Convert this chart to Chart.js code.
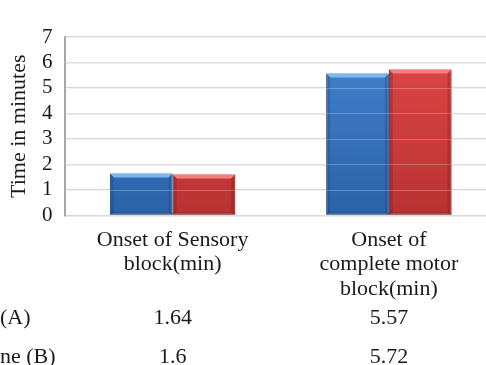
<!DOCTYPE html>
<html>
<head>
<meta charset="utf-8">
<script src="https://cdn.jsdelivr.net/npm/chart.js@4"></script>
<style>
  html, body { margin: 0; padding: 0; background: #fff; overflow: hidden; }
  #wrap { position: absolute; left: 0; top: 0; width: 497px; height: 365px; }
</style>
</head>
<body>
<div id="wrap"><canvas id="c"></canvas></div>
<script>
// Categories (multi-line axis labels)
const categories = [
  ["Onset of Sensory", "block(min)"],
  ["Onset of", "complete motor", "block(min)"]
];
// Series names as shown in the data table rows
const seriesNames = ["(A)", "ne (B)"];
// Series values (minutes)
const groupA = [1.64, 5.57];
const groupB = [1.6, 5.72];
// Value axis
const yMin = 0;
const yMax = 7;
const yStep = 1;

const FONT = "'Liberation Serif', 'Times New Roman', serif";

function barGradient(ctx, top, bottom) {
  const chart = ctx.chart;
  const area = chart.chartArea;
  if (!area) return top;
  const g = chart.ctx.createLinearGradient(0, area.top, 0, area.bottom);
  g.addColorStop(0, top);
  g.addColorStop(1, bottom);
  return g;
}

// Bevelled edges on each bar, plus faint grid lines showing through the bars
const bevelPlugin = {
  id: 'bevel',
  afterDatasetsDraw(chart) {
    const c = chart.ctx;
    const shades = [
      { hi: 'rgba(130,185,240,0.95)', lo: 'rgba(20,60,120,0.28)' },
      { hi: 'rgba(245,130,130,0.95)', lo: 'rgba(110,20,20,0.28)' }
    ];
    chart.data.datasets.forEach((ds, di) => {
      const meta = chart.getDatasetMeta(di);
      meta.data.forEach(bar => {
        const p = bar.getProps(['x', 'y', 'width', 'base'], true);
        const l = p.x - p.width / 2, r = p.x + p.width / 2, t = p.y, b = p.base;
        const e = 4;
        c.save();
        // top highlight
        c.fillStyle = shades[di].hi;
        c.beginPath();
        c.moveTo(l, t); c.lineTo(r, t); c.lineTo(r - e, t + e); c.lineTo(l + e, t + e);
        c.closePath(); c.fill();
        // side shading
        c.fillStyle = shades[di].lo;
        c.beginPath();
        c.moveTo(l, t); c.lineTo(l + e, t + e); c.lineTo(l + e, b - 2); c.lineTo(l, b);
        c.closePath(); c.fill();
        c.beginPath();
        c.moveTo(r, t); c.lineTo(r - e, t + e); c.lineTo(r - e, b - 2); c.lineTo(r, b);
        c.closePath(); c.fill();
        c.fillStyle = 'rgba(0,0,0,0.2)';
        c.fillRect(l, b - 2, p.width, 2);
        c.restore();
      });
    });
    // grid lines over bars
    const ys = chart.scales.y;
    const area = chart.chartArea;
    c.save();
    c.strokeStyle = 'rgba(255,255,255,0.25)';
    c.lineWidth = 1;
    for (let v = yMin + yStep; v <= yMax; v += yStep) {
      const py = Math.round(ys.getPixelForValue(v)) + 0.5;
      c.beginPath(); c.moveTo(area.left, py); c.lineTo(area.right, py); c.stroke();
    }
    c.restore();
  }
};

// Data table under the category labels
const tablePlugin = {
  id: 'dataTable',
  afterDraw(chart) {
    const c = chart.ctx;
    const xs = chart.scales.x;
    const rows = [groupA, groupB];
    const rowY = [318, 357];
    c.save();
    c.font = `22px ${FONT}`;
    c.fillStyle = '#1a1a1a';
    c.textBaseline = 'middle';
    rows.forEach((vals, ri) => {
      c.textAlign = 'left';
      c.fillText(seriesNames[ri], 0, rowY[ri]);
      c.textAlign = 'center';
      vals.forEach((v, i) => {
        c.fillText(String(v), xs.getPixelForValue(i), rowY[ri]);
      });
    });
    c.restore();
  }
};

new Chart(document.getElementById('c'), {
  type: 'bar',
  data: {
    labels: categories,
    datasets: [
      {
        label: seriesNames[0],
        data: groupA,
        backgroundColor: ctx => barGradient(ctx, '#4584d0', '#2b62a8'),
        borderColor: '#2a5690',
        borderWidth: 1,
        borderSkipped: false
      },
      {
        label: seriesNames[1],
        data: groupB,
        backgroundColor: ctx => barGradient(ctx, '#e24848', '#b83232'),
        borderColor: '#9a2a2a',
        borderWidth: 1,
        borderSkipped: false
      }
    ]
  },
  options: {
    responsive: true,
    maintainAspectRatio: false,
    animation: false,
    devicePixelRatio: 1,
    layout: { padding: { top: 37, right: 0, bottom: 59, left: 8 } },
    plugins: { legend: { display: false }, tooltip: { enabled: false } },
    datasets: { bar: { categoryPercentage: 0.58, barPercentage: 1.0 } },
    scales: {
      x: {
        grid: { display: false },
        border: { display: false },
        ticks: {
          font: { family: FONT, size: 22, lineHeight: 1.1 },
          color: '#1a1a1a',
          padding: 5,
          maxRotation: 0,
          autoSkip: false
        }
      },
      y: {
        min: yMin,
        max: yMax,
        grid: { color: '#d9d9d9', lineWidth: 1.5, drawTicks: false },
        border: { display: true, color: '#a6a6a6', width: 2 },
        ticks: {
          stepSize: yStep,
          autoSkip: false,
          font: { family: FONT, size: 21 },
          color: '#1a1a1a',
          padding: 12
        },
        title: {
          display: true,
          text: 'Time in minutes',
          font: { family: FONT, size: 22, lineHeight: 1.0 },
          color: '#1a1a1a',
          padding: { top: 0, bottom: 0 }
        }
      }
    }
  },
  plugins: [bevelPlugin, tablePlugin]
});
</script>
</body>
</html>
